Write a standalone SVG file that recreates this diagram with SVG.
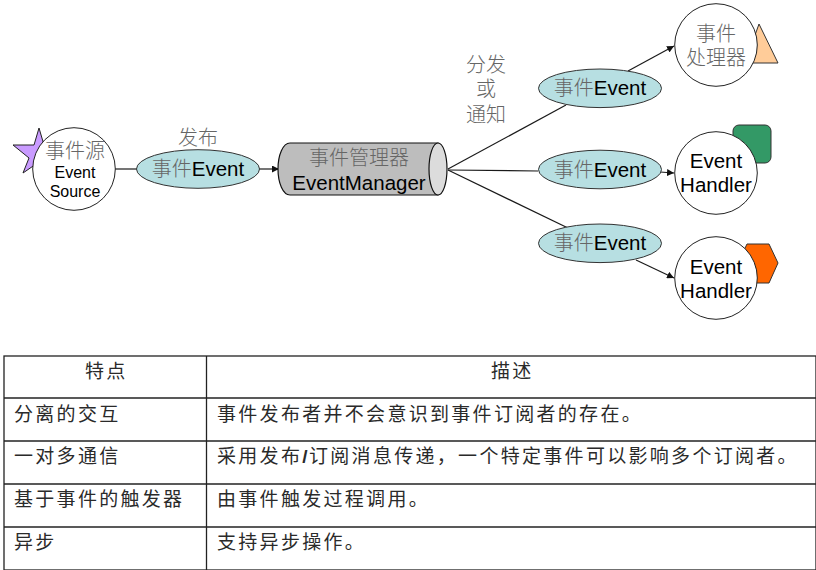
<svg xmlns="http://www.w3.org/2000/svg" width="816" height="570" viewBox="0 0 816 570">
<defs>
<marker id="arr" markerUnits="userSpaceOnUse" markerWidth="8" markerHeight="7" refX="7" refY="3.500" orient="auto"><path d="M0 0L7 3.500L0 7Z" fill="#111"/></marker>
</defs>
<style>
text{font-family:"Liberation Sans","Noto Sans CJK SC",sans-serif;text-anchor:middle}
.cn{font-family:"Noto Sans CJK SC",sans-serif;font-weight:300;fill:#666;font-size:20px}
.en{fill:#000;font-size:20.500px}
.sm{fill:#000;font-size:16px}
.ev{fill:#b7dfe2;stroke:#333;stroke-width:1}
.ci{fill:#fff;stroke:#222;stroke-width:1}
.ln{fill:none;stroke:#1a1a1a;stroke-width:1.2}
.tb{font-family:"Noto Sans CJK SC",sans-serif;font-size:19px;letter-spacing:2.300px;fill:#2a2a2a;text-anchor:start;font-weight:400}
.sl{font-family:"Liberation Sans",sans-serif;font-weight:700;letter-spacing:1.500px}
.gl{stroke:#222;stroke-width:1.3;fill:none}
</style>
<rect width="816" height="570" fill="#fff"/>
<g id="connectors">
<line class="ln" x1="115" y1="169" x2="137" y2="169"/>
<line class="ln" x1="259" y1="169" x2="279" y2="169" marker-end="url(#arr)"/>
<line class="ln" x1="448" y1="169" x2="566" y2="105"/>
<line class="ln" x1="628" y1="71" x2="674" y2="46" marker-end="url(#arr)"/>
<line class="ln" x1="448" y1="170" x2="538" y2="171"/>
<line class="ln" x1="660" y1="172" x2="674" y2="173" marker-end="url(#arr)"/>
<line class="ln" x1="448" y1="170" x2="568" y2="228"/>
<line class="ln" x1="636" y1="260" x2="674" y2="278" marker-end="url(#arr)"/>
</g>
<g id="source">
<path d="M39 128L44 145L65 145L48 156L55 173L39 162L23 173L29 158L13 145L34 145Z" fill="#c99bff" stroke="#222"/>
<circle class="ci" cx="74" cy="169" r="41.300"/>
<text class="cn" x="75" y="158">事件源</text>
<text class="sm" x="75" y="178">Event</text>
<text class="sm" x="75" y="197">Source</text>
</g>
<g id="publish-label"><text class="cn" x="198" y="145">发布</text></g>
<g id="event-publish">
<ellipse class="ev" cx="198" cy="169" rx="61.500" ry="19.300"/>
<text x="198" y="176"><tspan class="cn">事件</tspan><tspan class="en">Event</tspan></text>
</g>
<g id="manager">
<path d="M290 143H438V195H290C283 195 278 183 278 169C278 155 283 143 290 143Z" fill="#bdbdbd" stroke="#111" stroke-width="1.200"/>
<ellipse cx="438" cy="169" rx="9" ry="26" fill="#dcdcdc" stroke="#111" stroke-width="1.200"/>
<text class="cn" x="359" y="165">事件管理器</text>
<text class="en" x="359" y="190">EventManager</text>
</g>
<g id="dispatch-label">
<text class="cn"><tspan x="486" y="72">分发</tspan><tspan x="486" y="96">或</tspan><tspan x="486" y="122">通知</tspan></text>
</g>
<g id="event-1">
<ellipse class="ev" cx="600" cy="88.300" rx="61.500" ry="19.300"/>
<text x="600" y="95"><tspan class="cn">事件</tspan><tspan class="en">Event</tspan></text>
</g>
<g id="event-2">
<ellipse class="ev" cx="600" cy="169.500" rx="61.500" ry="19.300"/>
<text x="600" y="177"><tspan class="cn">事件</tspan><tspan class="en">Event</tspan></text>
</g>
<g id="event-3">
<ellipse class="ev" cx="600" cy="243.300" rx="61.500" ry="19.300"/>
<text x="600" y="250"><tspan class="cn">事件</tspan><tspan class="en">Event</tspan></text>
</g>
<g id="handler-1">
<path d="M759 24L778 63H745Z" fill="#ffcc99" stroke="#333"/>
<circle class="ci" cx="716" cy="45" r="41.300"/>
<text class="cn"><tspan x="716" y="41">事件</tspan><tspan x="716" y="65">处理器</tspan></text>
</g>
<g id="handler-2">
<rect x="733" y="125" width="38" height="38" rx="6" fill="#339966" stroke="#333"/>
<circle class="ci" cx="716" cy="173" r="41.300"/>
<text class="en" x="716" y="168">Event</text>
<text class="en" x="716" y="192">Handler</text>
</g>
<g id="handler-3">
<path d="M747 244H769L778 263L769 283H747L738 263Z" fill="#ff6600" stroke="#333"/>
<circle class="ci" cx="716" cy="278" r="41.300"/>
<text class="en" x="716" y="274">Event</text>
<text class="en" x="716" y="298">Handler</text>
</g>
<g id="table">
<rect class="gl" x="4" y="356" width="812" height="214"/>
<line class="gl" x1="4" y1="398" x2="816" y2="398"/>
<line class="gl" x1="4" y1="441" x2="816" y2="441"/>
<line class="gl" x1="4" y1="484" x2="816" y2="484"/>
<line class="gl" x1="4" y1="527" x2="816" y2="527"/>
<line class="gl" x1="206.500" y1="356" x2="206.500" y2="570"/>
<text class="tb" x="85" y="378">特点</text>
<text class="tb" x="491" y="378">描述</text>
<text class="tb" x="14" y="421">分离的交互</text>
<text class="tb" x="217" y="421">事件发布者并不会意识到事件订阅者的存在。</text>
<text class="tb" x="14" y="463">一对多通信</text>
<text class="tb" x="217" y="463">采用发布<tspan class="sl">/</tspan>订阅消息传递，一个特定事件可以影响多个订阅者。</text>
<text class="tb" x="14" y="506">基于事件的触发器</text>
<text class="tb" x="217" y="506">由事件触发过程调用。</text>
<text class="tb" x="14" y="549">异步</text>
<text class="tb" x="217" y="549">支持异步操作。</text>
</g>
</svg>
